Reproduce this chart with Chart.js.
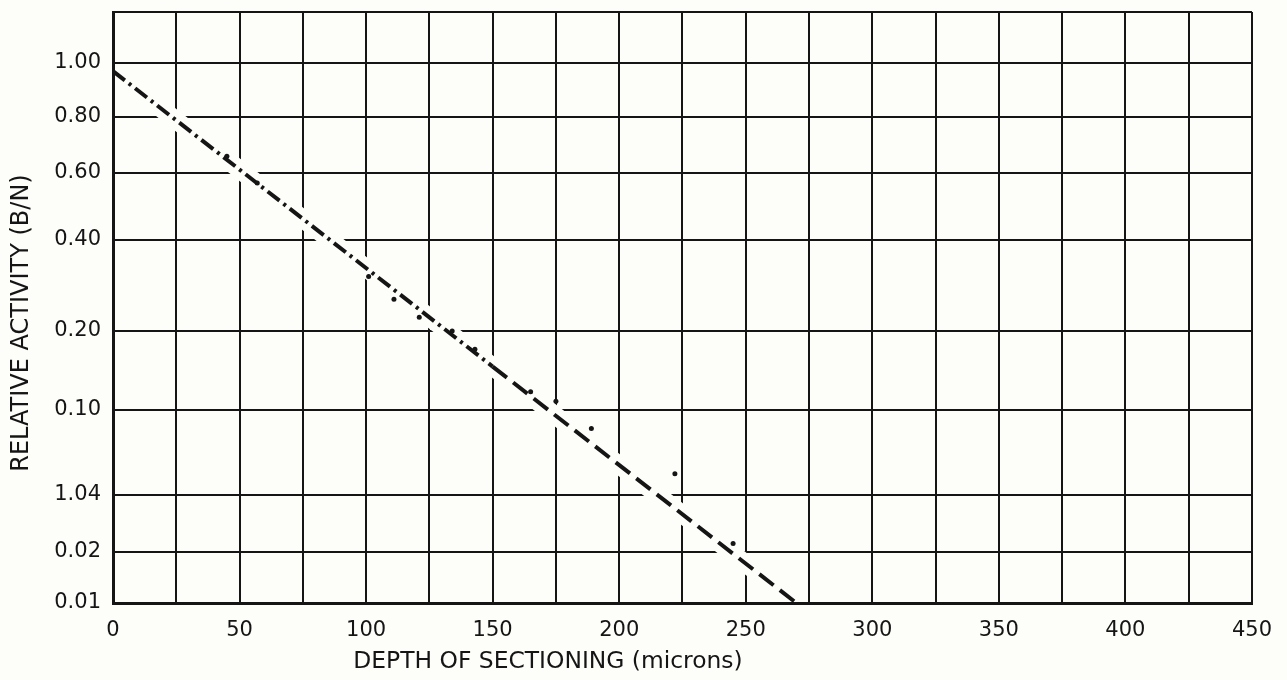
<!DOCTYPE html>
<html>
<head>
<meta charset="utf-8">
<script src="https://cdn.jsdelivr.net/npm/chart.js@4"></script>
<style>
  html, body { margin: 0; padding: 0; background: #fdfdfa; }
  #wrap { width: 1287px; height: 680px; }
</style>
</head>
<body>
<div id="wrap"><canvas id="depth-chart" width="1287" height="680"></canvas></div>
<script>
// Relative activity vs depth of sectioning

// y axis: the paper is ruled unevenly, so each printed value sits on its own line
const activityTicks = [0.01, 0.02, 0.04, 0.10, 0.20, 0.40, 0.60, 0.80, 1.00];
const activityLabels = ['0.01', '0.02', '1.04', '0.10', '0.20', '0.40', '0.60', '0.80', '1.00'];
const activityRuling = [0, 51, 108, 193, 272, 363, 430, 486, 540];
const rulingTop = 591;

// x axis
const depthMax = 450;
const depthStep = 25;

// fitted line (depth in microns, relative activity)
const fitDepth = [0, 150, 270];
const fitActivity = [0.97, 0.155, 0.01];

// measured points
const pointDepth = [45, 57, 101, 111, 121, 134, 143, 165, 175, 189, 222, 245];
const pointActivity = [0.66, 0.57, 0.32, 0.27, 0.23, 0.20, 0.177, 0.123, 0.111, 0.087, 0.055, 0.023];

const inkColor = '#151515';
const paperColor = '#fdfdfa';
const fontFace = '"DejaVu Sans", sans-serif';

// activity value -> position on the ruled axis
function toRuling(v) {
    for (let i = 0; i < activityTicks.length - 1; i++) {
        const a = activityTicks[i], b = activityTicks[i + 1];
        if (v <= b || i === activityTicks.length - 2) {
            const f = (v - a) / (b - a);
            return activityRuling[i] + f * (activityRuling[i + 1] - activityRuling[i]);
        }
    }
    return 0;
}

const fitPoints = fitDepth.map((d, i) => ({ x: d, y: toRuling(fitActivity[i]) }));
const measuredPoints = pointDepth.map((d, i) => ({ x: d, y: toRuling(pointActivity[i]) }));

const paperBackground = {
    id: 'paperBackground',
    beforeDraw(chart) {
        const ctx = chart.ctx;
        ctx.save();
        ctx.fillStyle = paperColor;
        ctx.fillRect(0, 0, chart.width, chart.height);
        ctx.restore();
    }
};

// draw text sized to the width it has in the original
function fitText(ctx, text, width) {
    ctx.font = '20px ' + fontFace;
    const size = 20 * width / ctx.measureText(text).width;
    ctx.font = Math.min(size, 24).toFixed(1) + 'px ' + fontFace;
    ctx.fillText(text, 0, 0, width);
}

// axis titles, placed where the original has them
const axisTitles = {
    id: 'axisTitles',
    afterDraw(chart) {
        const ctx = chart.ctx;
        ctx.save();
        ctx.fillStyle = inkColor;
        ctx.textAlign = 'center';
        ctx.textBaseline = 'middle';
        ctx.save();
        ctx.translate(548, 662);
        fitText(ctx, 'DEPTH OF SECTIONING (microns)', 390);
        ctx.restore();
        ctx.translate(22, 323);
        ctx.rotate(-Math.PI / 2);
        fitText(ctx, 'RELATIVE ACTIVITY (B/N)', 363);
        ctx.restore();
    }
};

const ctx = document.getElementById('depth-chart').getContext('2d');
new Chart(ctx, {
    type: 'scatter',
    data: {
        datasets: [
            {
                // white gap around the line where it crosses the rulings
                data: fitPoints,
                showLine: true,
                borderColor: paperColor,
                borderWidth: 18,
                pointRadius: 0,
                clip: 0,
                order: 3
            },
            {
                data: fitPoints,
                showLine: true,
                borderColor: inkColor,
                borderWidth: 4,
                borderCapStyle: 'butt',
                pointRadius: 0,
                order: 2,
                segment: {
                    borderDash: (c) => c.p0DataIndex === 0 ? [15, 5, 3, 5] : [18, 8]
                }
            },
            {
                data: measuredPoints,
                showLine: false,
                pointRadius: 2.5,
                pointBorderWidth: 0,
                pointBackgroundColor: inkColor,
                order: 1
            }
        ]
    },
    options: {
        responsive: false,
        animation: false,
        layout: { padding: { top: 12, right: 35, left: 0, bottom: 0 } },
        plugins: {
            legend: { display: false },
            tooltip: { enabled: false }
        },
        scales: {
            x: {
                type: 'linear',
                min: 0,
                max: depthMax,
                afterFit: (s) => { s.height = 77; },
                grid: { color: inkColor, lineWidth: 2, drawTicks: false },
                border: { display: true, color: inkColor, width: 3, z: 1 },
                ticks: {
                    stepSize: depthStep,
                    autoSkip: false,
                    maxRotation: 0,
                    padding: 15,
                    color: inkColor,
                    font: { family: fontFace, size: 21 },
                    callback: (v) => v % 50 === 0 ? String(v) : ''
                }
            },
            y: {
                type: 'linear',
                min: 0,
                max: rulingTop,
                afterFit: (s) => {
                    s.width = 113;
                    s.paddingTop = 0;
                    s.paddingBottom = 0;
                },
                afterBuildTicks: (s) => {
                    s.ticks = activityRuling.concat([rulingTop]).map(v => ({ value: v }));
                },
                grid: { color: inkColor, lineWidth: 2, drawTicks: false },
                border: { display: true, color: inkColor, width: 3, z: 1 },
                ticks: {
                    autoSkip: false,
                    padding: 12,
                    color: inkColor,
                    font: { family: fontFace, size: 21 },
                    callback: (v) => {
                        const i = activityRuling.indexOf(v);
                        return i >= 0 ? activityLabels[i] : '';
                    }
                }
            }
        }
    },
    plugins: [paperBackground, axisTitles]
});
</script>
</body>
</html>
